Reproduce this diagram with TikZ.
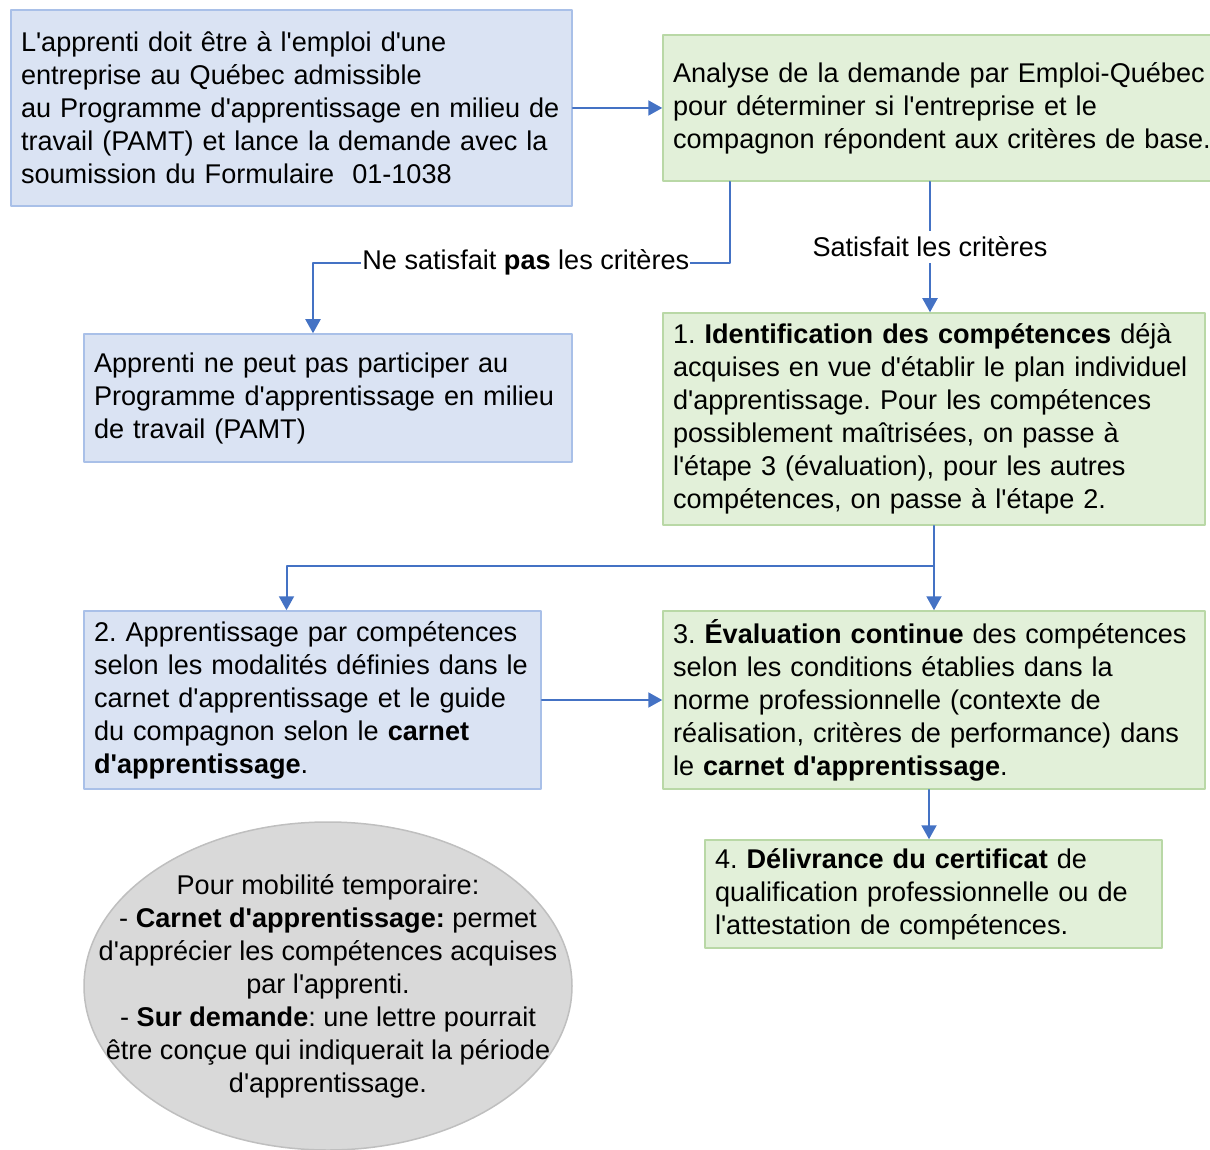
\documentclass[tikz,border=0pt]{standalone}
\usepackage{fontspec}
\setmainfont{Liberation Sans}[Ligatures=TeXOff]
\usetikzlibrary{arrows.meta,shapes.geometric}
\definecolor{bluefill}{HTML}{DAE3F3}
\definecolor{blueline}{HTML}{A9C0E8}
\definecolor{greenfill}{HTML}{E2F0D9}
\definecolor{greenline}{HTML}{B9D8A6}
\definecolor{notefill}{HTML}{D9D9D9}
\definecolor{noteline}{HTML}{BFBFBF}
\definecolor{linkblue}{HTML}{4472C4}
\frenchspacing
\exhyphenpenalty=10000
\begin{document}
\begin{tikzpicture}[x=1pt,y=-1pt,line cap=round,line join=round,
	font=\fontsize{27.1}{33}\selectfont,
	box/.style={draw,line width=1.5pt,inner xsep=10pt,inner ysep=0pt,
		execute at begin node={\parindent=0pt\rightskip=0pt plus 1fil minus 80pt\hyphenpenalty=10000}},
	bluebox/.style={box,draw=blueline,fill=bluefill},
	greenbox/.style={box,draw=greenline,fill=greenfill},
	link/.style={draw=linkblue,line width=2pt,-{Triangle[width=15pt,length=14pt]}},
	lbl/.style={fill=white,inner xsep=1pt,inner ysep=6pt}]
	\useasboundingbox (0,0) rectangle (1210,1150);
	\node[bluebox,text width=541pt,minimum height=196pt] (A) at (291.5,108) {L'apprenti doit être à l'emploi d'une\\ entreprise au Québec admissible\\ au Programme d'apprentissage en milieu de\\ travail (PAMT) et lance la demande avec la\\ soumission du Formulaire\ \ 01-1038};
	\node[greenbox,text width=540pt,minimum height=146pt] (B) at (943,108) {Analyse de la demande par Emploi-Québec\\ pour déterminer si l'entreprise et le\\ compagnon répondent aux critères de base.};
	\node[bluebox,text width=468pt,minimum height=128pt] (C) at (328,398) {Apprenti ne peut pas participer au\\ Programme d'apprentissage en milieu\\ de travail (PAMT)};
	\node[greenbox,text width=522pt,minimum height=212pt] (D) at (934,419) {1. \textbf{Identification des compétences} déjà\\ acquises en vue d'établir le plan individuel\\ d'apprentissage. Pour les compétences\\ possiblement maîtrisées, on passe à\\ l'étape 3 (évaluation), pour les autres\\ compétences, on passe à l'étape 2.};
	\node[bluebox,text width=437pt,minimum height=178pt] (E) at (312.5,700) {2. Apprentissage par compétences\\ selon les modalités définies dans le\\ carnet d'apprentissage et le guide\\ du compagnon selon le \textbf{carnet}\\ \textbf{d'apprentissage}.};
	\node[greenbox,text width=522pt,minimum height=178pt] (F) at (934,700) {3. \textbf{Évaluation continue} des compétences\\ selon les conditions établies dans la\\ norme professionnelle (contexte de\\ réalisation, critères de performance) dans\\ le \textbf{carnet d'apprentissage}.};
	\node[greenbox,text width=437pt,minimum height=108pt] (G) at (933.5,894) {4. \textbf{Délivrance du certificat} de\\ qualification professionnelle ou de\\ l'attestation de compétences.};
	\node[ellipse,draw=noteline,fill=notefill,line width=1.5pt,minimum width=488pt,minimum height=328pt] (M) at (328,986) {};
	\node[align=center] (N) at (M) {Pour mobilité temporaire:\\ - \textbf{Carnet d'apprentissage:} permet\\ d'apprécier les compétences acquises\\ par l'apprenti.\\ - \textbf{Sur demande}: une lettre pourrait\\ être conçue qui indiquerait la période\\ d'apprentissage.};
	\draw[link] (A.east) -- (B.west);
	\draw[link] ([xshift=68pt]B.south west) -- ++(0,81) -| node[lbl,pos=0.245]{Ne satisfait \textbf{pas} les critères} ([xshift=-15pt]C.north);
	\draw[link] ([xshift=-13pt]B.south) -- node[lbl]{Satisfait les critères} ([xshift=-13pt]B.south |- D.north);
	\draw[link] (D.south) -- (F.north);
	\draw[link] ([yshift=-40pt]D.south) -| ([xshift=-26pt]E.north);
	\draw[link] (E.east) -- (F.west);
	\draw[link] ([xshift=-5pt]F.south) -- ([xshift=-5pt]F.south |- G.north);
\end{tikzpicture}
\end{document}
